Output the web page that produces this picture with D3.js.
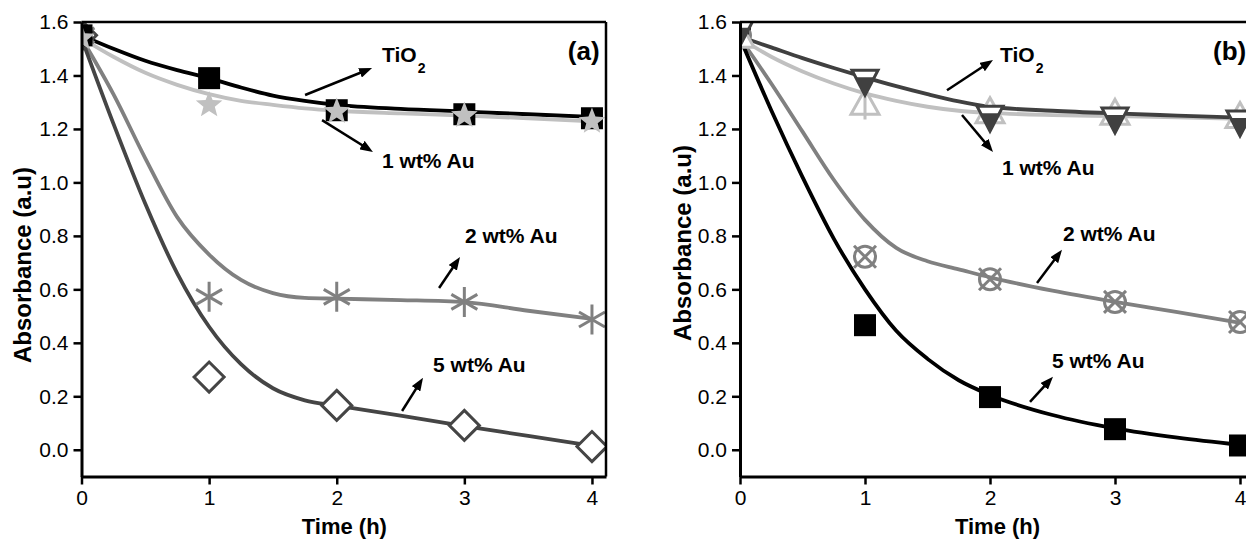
<!DOCTYPE html>
<html>
<head>
<meta charset="utf-8">
<script src="https://cdn.jsdelivr.net/npm/d3@7"></script>
<style>
  body { margin: 0; background: #fff; }
  svg { display: block; }
  text { font-family: "Liberation Sans", Arimo, sans-serif; fill: #000; }
</style>
</head>
<body>
<svg id="chart" width="1246" height="543"></svg>
<script>
// Sampling times (h)
const times = [0, 1, 2, 3, 4];
// Knots of the smooth decay curves (h)
const fitTimes = [0, 0.25, 0.5, 0.75, 1, 1.25, 1.5, 1.75, 2, 2.5, 3, 3.5, 4];

const xTicks = [0, 1, 2, 3, 4];
const yTicks = [0.0, 0.2, 0.4, 0.6, 0.8, 1.0, 1.2, 1.4, 1.6];

// Panel (a): measured absorbance
const aTiO2 = [1.55, 1.39, 1.27, 1.255, 1.24];
const aAu1 = [1.54, 1.29, 1.265, 1.25, 1.228];
const aAu2 = [1.55, 0.572, 0.572, 0.553, 0.487];
const aAu5 = [1.55, 0.272, 0.166, 0.091, 0.012];
// Panel (a): decay curves
const aTiO2Fit = [1.55, 1.5, 1.455, 1.42, 1.39, 1.355, 1.325, 1.305, 1.29, 1.275, 1.265, 1.255, 1.245];
const aAu1Fit = [1.54, 1.47, 1.41, 1.365, 1.33, 1.305, 1.29, 1.277, 1.268, 1.258, 1.25, 1.24, 1.228];
const aAu2Fit = [1.54, 1.33, 1.09, 0.87, 0.73, 0.635, 0.586, 0.568, 0.565, 0.56, 0.552, 0.52, 0.49];
const aAu5Fit = [1.54, 1.22, 0.92, 0.66, 0.46, 0.32, 0.23, 0.185, 0.165, 0.128, 0.088, 0.052, 0.015];

// Panel (b): measured absorbance
const bTiO2 = [1.56, 1.375, 1.24, 1.233, 1.222];
const bAu1 = [1.55, 1.30, 1.268, 1.262, 1.25];
const bAu1Err = [0, 0.065, 0, 0, 0];
const bAu2 = [1.55, 0.722, 0.638, 0.553, 0.478];
const bAu5 = [1.55, 0.466, 0.197, 0.077, 0.016];
// Panel (b): decay curves
const bTiO2Fit = [1.545, 1.505, 1.465, 1.428, 1.393, 1.36, 1.33, 1.303, 1.283, 1.268, 1.258, 1.25, 1.242];
const bAu1Fit = [1.54, 1.47, 1.415, 1.37, 1.333, 1.305, 1.283, 1.268, 1.26, 1.252, 1.248, 1.243, 1.238];
const bAu2Fit = [1.54, 1.37, 1.19, 1.01, 0.86, 0.755, 0.705, 0.675, 0.645, 0.595, 0.553, 0.515, 0.475];
const bAu5Fit = [1.54, 1.27, 1.02, 0.79, 0.60, 0.445, 0.34, 0.26, 0.205, 0.13, 0.08, 0.045, 0.018];

const FONT = "'Liberation Sans', Arimo, sans-serif";
const svg = d3.select("#chart");
const y = d3.scaleLinear().domain([-0.1, 1.6]).range([476.5, 22]);

const defs = svg.append("defs");
defs.append("marker")
  .attr("id", "arrowhead")
  .attr("viewBox", "0 -5 13 10")
  .attr("refX", 13).attr("refY", 0)
  .attr("markerUnits", "userSpaceOnUse")
  .attr("markerWidth", 13).attr("markerHeight", 10)
  .attr("orient", "auto")
  .append("path").attr("d", "M0,-5L13,0L0,5Z").attr("fill", "#000");

function starPath(R, r) {
  const pts = [];
  for (let k = 0; k < 10; k++) {
    const a = -Math.PI / 2 + k * Math.PI / 5;
    const rad = k % 2 === 0 ? R : r;
    pts.push([rad * Math.cos(a), rad * Math.sin(a)]);
  }
  return "M" + pts.map(p => p.join(",")).join("L") + "Z";
}

function drawMarker(g, type, cx, cy, color) {
  const m = g.append("g").attr("transform", `translate(${cx},${cy})`);
  switch (type) {
    case "square":
      m.append("rect").attr("x", -11).attr("y", -11).attr("width", 22).attr("height", 22).attr("fill", color);
      break;
    case "star":
      m.append("path").attr("d", starPath(14, 6)).attr("fill", color);
      break;
    case "asterisk":
      [90, 30, 150].forEach(deg => {
        const a = deg * Math.PI / 180, L = 15;
        m.append("line")
          .attr("x1", -L * Math.cos(a)).attr("y1", -L * Math.sin(a))
          .attr("x2", L * Math.cos(a)).attr("y2", L * Math.sin(a))
          .attr("stroke", color).attr("stroke-width", 3);
      });
      break;
    case "diamond":
      m.append("path").attr("d", "M0,-15L15,0L0,15L-15,0Z")
        .attr("fill", "#fff").attr("stroke", color).attr("stroke-width", 3);
      break;
    case "triDownHalf":
      m.append("path").attr("d", "M-13,-12L13,-12L0,13Z")
        .attr("fill", "#fff").attr("stroke", color).attr("stroke-width", 3);
      m.append("path").attr("d", "M-9.5,-5L9.5,-5L0,13Z").attr("fill", color);
      break;
    case "triUp":
      m.append("path").attr("d", "M0,-13L14,12L-14,12Z")
        .attr("fill", "#fff").attr("stroke", color).attr("stroke-width", 3);
      break;
    case "circleX":
      m.append("circle").attr("r", 10.5).attr("fill", "none").attr("stroke", color).attr("stroke-width", 3);
      m.append("line").attr("x1", -11).attr("y1", -11).attr("x2", 11).attr("y2", 11)
        .attr("stroke", color).attr("stroke-width", 3);
      m.append("line").attr("x1", 11).attr("y1", -11).attr("x2", -11).attr("y2", 11)
        .attr("stroke", color).attr("stroke-width", 3);
      break;
  }
}

const panels = [
  {
    id: "a",
    x: d3.scaleLinear().domain([0, 4.11]).range([81.5, 606]),
    tag: "(a)", tagAt: [4.06, 1.458], tagAnchor: "end",
    yTitle: { dx: -51, cy: 265 },
    series: [
      { values: aTiO2, fit: aTiO2Fit, color: "#000000", marker: "square" },
      { values: aAu1, fit: aAu1Fit, color: "#c0c0c0", marker: "star" },
      { values: aAu2, fit: aAu2Fit, color: "#808080", marker: "asterisk" },
      { values: aAu5, fit: aAu5Fit, color: "#454545", marker: "diamond" }
    ],
    symbolOrder: [3, 2, 0, 1],
    notes: [
      { text: "TiO", sub: "2", at: [2.355, 1.450], from: [1.752, 1.327], to: [2.277, 1.428] },
      { text: "1 wt% Au", at: [2.355, 1.054], from: [1.885, 1.233], to: [2.284, 1.114] },
      { text: "2 wt% Au", at: [3.005, 0.773], from: [2.802, 0.605], to: [2.966, 0.721] },
      { text: "5 wt% Au", at: [2.755, 0.291], from: [2.512, 0.145], to: [2.676, 0.269] }
    ]
  },
  {
    id: "b",
    x: d3.scaleLinear().domain([0, 4.11]).range([740, 1253.75]),
    tag: "(b)", tagAt: [3.784, 1.458], tagAnchor: "start",
    yTitle: { dx: -49, cy: 243 },
    series: [
      { values: bAu1, fit: bAu1Fit, err: bAu1Err, color: "#c0c0c0", marker: "triUp" },
      { values: bTiO2, fit: bTiO2Fit, color: "#404040", marker: "triDownHalf" },
      { values: bAu2, fit: bAu2Fit, color: "#808080", marker: "circleX" },
      { values: bAu5, fit: bAu5Fit, color: "#000000", marker: "square" }
    ],
    symbolOrder: [3, 2, 0, 1],
    notes: [
      { text: "TiO", sub: "2", at: [2.08, 1.450], from: [1.656, 1.345], to: [2.024, 1.458] },
      { text: "1 wt% Au", at: [2.096, 1.028], from: [1.776, 1.252], to: [2.024, 1.114] },
      { text: "2 wt% Au", at: [2.584, 0.781], from: [2.376, 0.624], to: [2.576, 0.748] },
      { text: "5 wt% Au", at: [2.496, 0.306], from: [2.32, 0.179], to: [2.504, 0.273] }
    ]
  }
];

panels.forEach(p => {
  const x = p.x;
  const [x0, x1] = x.range();
  const [yb, yt] = y.range();
  const g = svg.append("g").attr("class", "panel-" + p.id);

  defs.append("clipPath").attr("id", "clip-" + p.id)
    .append("rect").attr("x", x0).attr("y", yt).attr("width", x1 - x0).attr("height", yb - yt);

  const plot = g.append("g").attr("clip-path", `url(#clip-${p.id})`);
  const line = d3.line()
    .x((d, i) => x(fitTimes[i]))
    .y(d => y(d))
    .curve(d3.curveMonotoneX);

  // Decay curves
  p.series.forEach(s => {
    plot.append("path").datum(s.fit)
      .attr("d", line)
      .attr("fill", "none")
      .attr("stroke", s.color)
      .attr("stroke-width", 3.8);
  });

  // Measured points
  p.symbolOrder.forEach(idx => {
    const s = p.series[idx];
    s.values.forEach((v, i) => {
      drawMarker(plot, s.marker, x(times[i]), y(v), s.color);
      if (s.err && s.err[i] > 0) {
        plot.append("line")
          .attr("x1", x(times[i])).attr("x2", x(times[i]))
          .attr("y1", y(v - s.err[i])).attr("y2", y(v + s.err[i]))
          .attr("stroke", s.color).attr("stroke-width", 3);
      }
    });
  });

  // Axes
  const yAxis = d3.axisLeft(y).tickValues(yTicks).tickFormat(d3.format(".1f"))
    .tickSize(8).tickSizeOuter(0).tickPadding(5);
  const xAxis = d3.axisBottom(x).tickValues(xTicks).tickFormat(d3.format("d"))
    .tickSize(8).tickSizeOuter(0).tickPadding(6);

  const ya = g.append("g").attr("transform", `translate(${x0},0)`).call(yAxis);
  const xa = g.append("g").attr("transform", `translate(0,${yb})`).call(xAxis);
  [ya, xa].forEach(a => {
    a.attr("font-family", FONT);
    a.selectAll(".domain").attr("stroke", "#000").attr("stroke-width", 3);
    a.selectAll(".tick line").attr("stroke", "#000").attr("stroke-width", 2.5);
    a.selectAll(".tick text").attr("font-size", 21).attr("fill", "#000").attr("font-family", FONT);
  });

  // Frame top and right
  g.append("line").attr("x1", x0).attr("x2", x1).attr("y1", yt).attr("y2", yt)
    .attr("stroke", "#000").attr("stroke-width", 2.5);
  g.append("line").attr("x1", x1).attr("x2", x1).attr("y1", yt).attr("y2", yb)
    .attr("stroke", "#000").attr("stroke-width", 2.5);

  // Axis titles
  g.append("text")
    .attr("transform", `translate(${x0 + p.yTitle.dx},${p.yTitle.cy}) rotate(-90)`)
    .attr("text-anchor", "middle")
    .attr("font-size", 24).attr("font-weight", "bold")
    .text("Absorbance (a.u)");
  g.append("text")
    .attr("x", x(2.06)).attr("y", 534)
    .attr("text-anchor", "middle")
    .attr("font-size", 22).attr("font-weight", "bold")
    .text("Time (h)");

  // Panel tag
  g.append("text")
    .attr("x", x(p.tagAt[0])).attr("y", y(p.tagAt[1]))
    .attr("text-anchor", p.tagAnchor)
    .attr("font-size", 26).attr("font-weight", "bold")
    .text(p.tag);

  // Labels with arrows
  p.notes.forEach(n => {
    const t = g.append("text")
      .attr("x", x(n.at[0])).attr("y", y(n.at[1]))
      .attr("font-size", 21).attr("font-weight", "bold")
      .text(n.text);
    if (n.sub) {
      t.append("tspan").attr("dx", 1).attr("dy", 11).attr("font-size", 14).text(n.sub);
    }
    const xs = x(n.from[0]), ys = y(n.from[1]);
    const xe = x(n.to[0]), ye = y(n.to[1]);
    const len = Math.hypot(xe - xs, ye - ys);
    const k = (len - 6) / len;
    g.append("line")
      .attr("x1", xs).attr("y1", ys)
      .attr("x2", xs + (xe - xs) * k).attr("y2", ys + (ye - ys) * k)
      .attr("stroke", "#000").attr("stroke-width", 2.5);
    g.append("path")
      .attr("d", `M${xs},${ys}L${xe},${ye}`)
      .attr("fill", "none").attr("stroke", "none")
      .attr("marker-end", "url(#arrowhead)");
  });
});
</script>
</body>
</html>
